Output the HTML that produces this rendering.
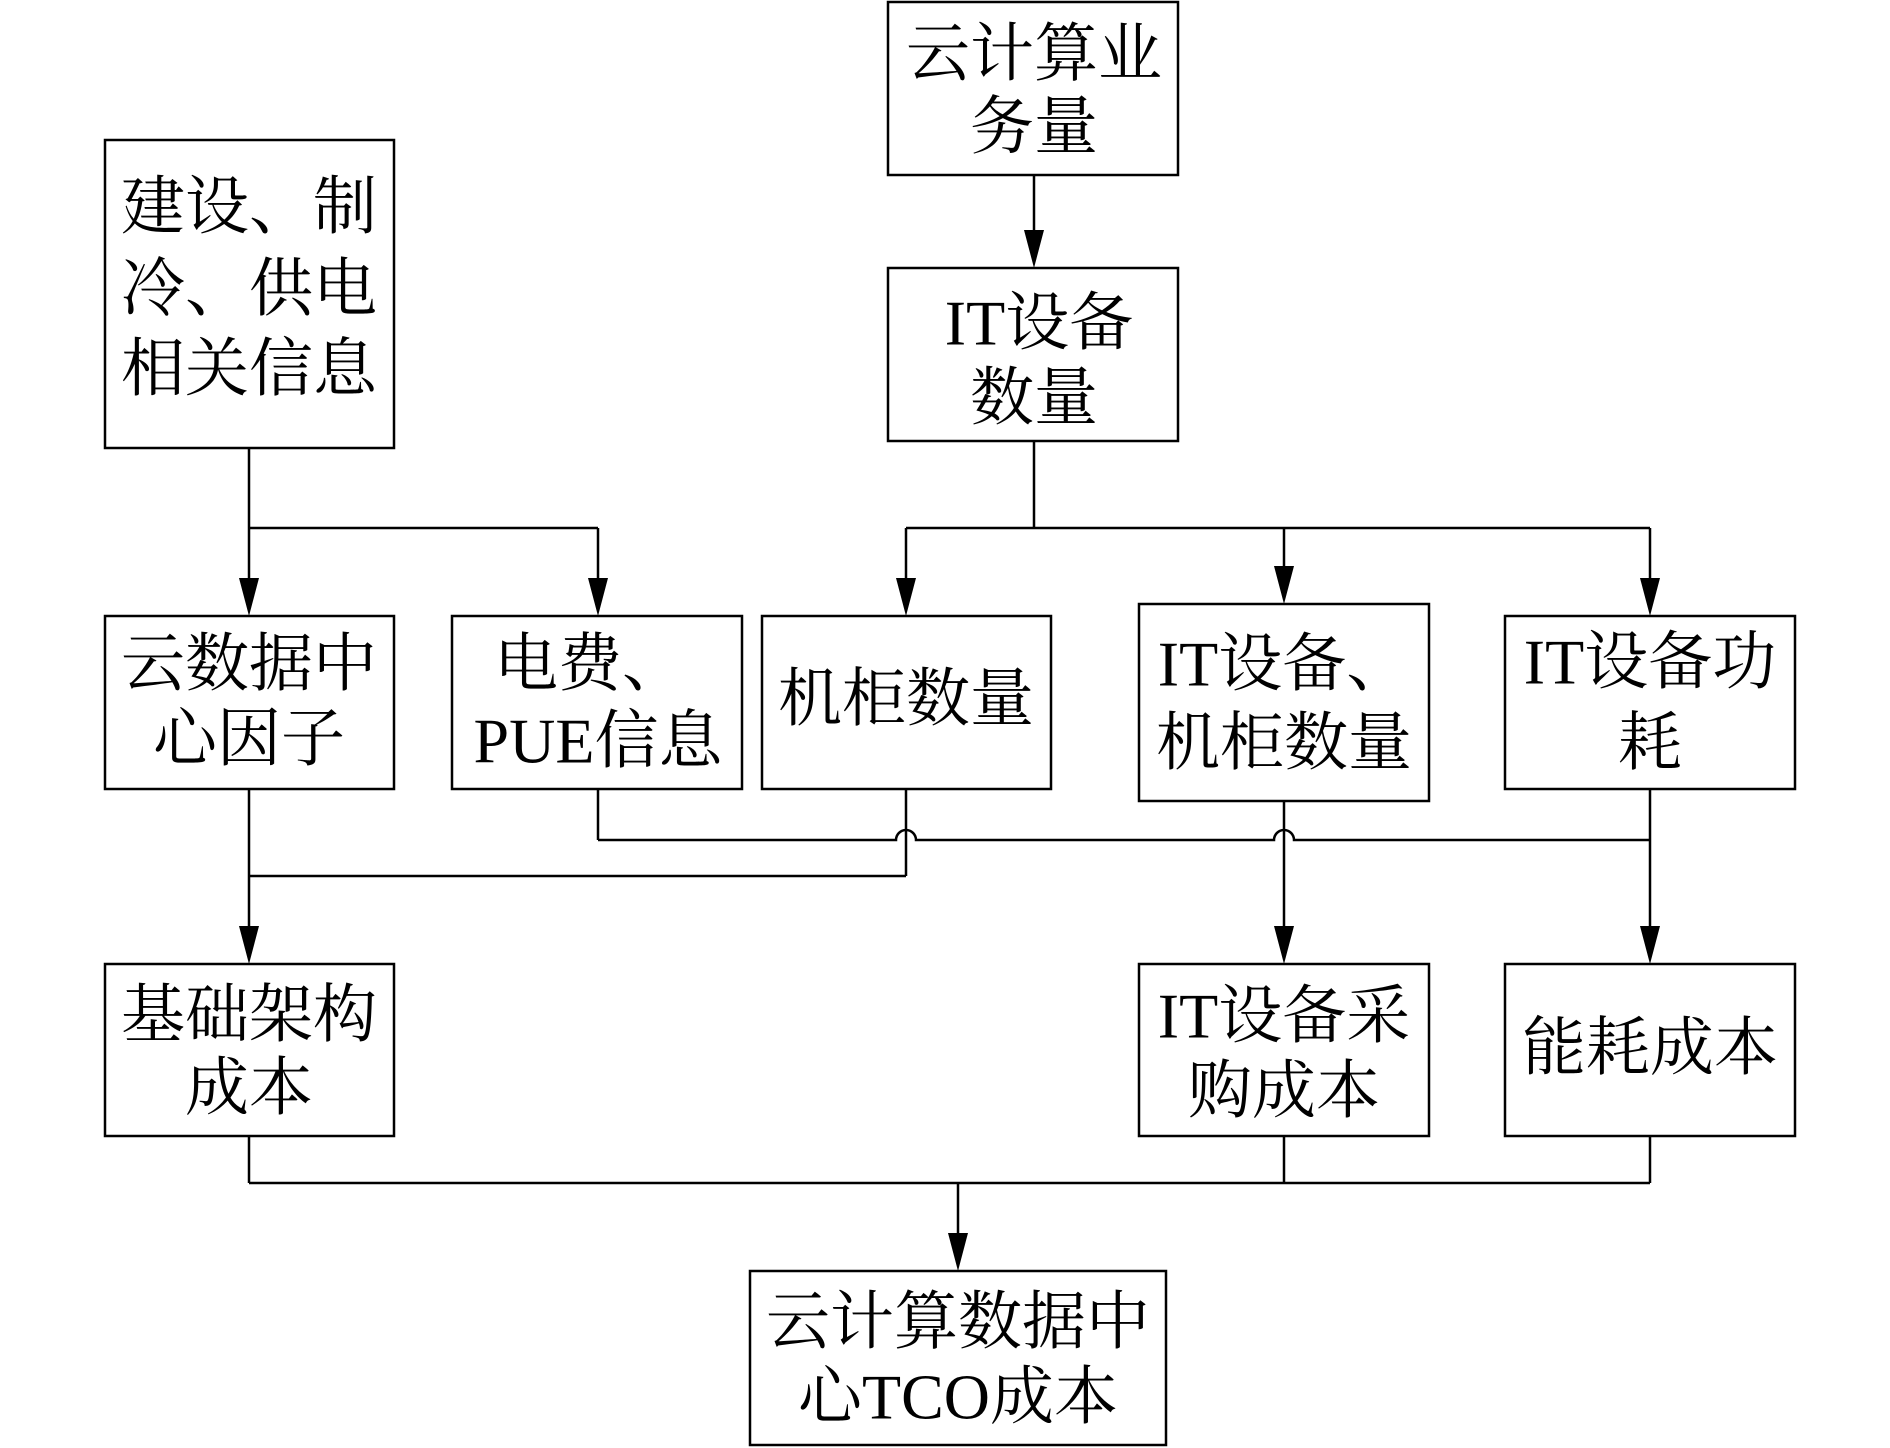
<!DOCTYPE html>
<html><head><meta charset="utf-8"><style>
html,body{margin:0;padding:0;background:#fff;}
svg{display:block;}
text{font-family:"Liberation Serif","Noto Serif CJK SC",serif;font-size:64px;fill:#000;text-anchor:middle;dominant-baseline:central;}
</style></head><body>
<svg width="1890" height="1448" viewBox="0 0 1890 1448" xmlns="http://www.w3.org/2000/svg">
<defs><marker id="a" markerWidth="20" markerHeight="38" refX="10" refY="38" orient="auto-start-reverse" markerUnits="userSpaceOnUse"><path d="M0,0 L20,0 L10,38 Z" fill="#000" transform="rotate(0)"/></marker></defs>
<g fill="none" stroke="#000" stroke-width="2.5">
<rect x="888" y="2" width="290" height="173"/>
<rect x="105" y="140" width="289" height="308"/>
<rect x="888" y="268" width="290" height="173"/>
<rect x="105" y="616" width="289" height="173"/>
<rect x="452" y="616" width="290" height="173"/>
<rect x="762" y="616" width="289" height="173"/>
<rect x="1139" y="604" width="290" height="197"/>
<rect x="1505" y="616" width="290" height="173"/>
<rect x="105" y="964" width="289" height="172"/>
<rect x="1139" y="964" width="290" height="172"/>
<rect x="1505" y="964" width="290" height="172"/>
<rect x="750" y="1271" width="416" height="174"/>
<!-- top -->
<line x1="1034" y1="175" x2="1034" y2="230"/>
<line x1="249" y1="448" x2="249" y2="528"/>
<line x1="249" y1="528" x2="598" y2="528"/>
<line x1="1034" y1="441" x2="1034" y2="528"/>
<line x1="906" y1="528" x2="1650" y2="528"/>
<!-- middle -->
<line x1="598" y1="789" x2="598" y2="840"/>
<path d="M598,840 H896 A10,10 0 0 1 916,840 H1274 A10,10 0 0 1 1294,840 H1650"/>
<line x1="906" y1="789" x2="906" y2="876"/>
<line x1="249" y1="876" x2="906" y2="876"/>
<line x1="249" y1="789" x2="249" y2="926"/>
<line x1="1284" y1="801" x2="1284" y2="926"/>
<line x1="1650" y1="789" x2="1650" y2="926"/>
<!-- bottom -->
<line x1="249" y1="1136" x2="249" y2="1183"/>
<line x1="1284" y1="1136" x2="1284" y2="1183"/>
<line x1="1650" y1="1136" x2="1650" y2="1183"/>
<line x1="249" y1="1183" x2="1650" y2="1183"/>
<line x1="958" y1="1183" x2="958" y2="1233"/>
</g>
<g fill="#000">
<path d="M1024,230 L1044,230 L1034,268 Z"/>
<path d="M239,578 L259,578 L249,616 Z"/>
<path d="M588,578 L608,578 L598,616 Z"/>
<path d="M896,578 L916,578 L906,616 Z"/>
<path d="M1274,566 L1294,566 L1284,604 Z"/>
<path d="M1640,578 L1660,578 L1650,616 Z"/>
<line x1="906" y1="528" x2="906" y2="580" stroke="#000" stroke-width="2.5"/>
<line x1="1284" y1="528" x2="1284" y2="568" stroke="#000" stroke-width="2.5"/>
<line x1="1650" y1="528" x2="1650" y2="580" stroke="#000" stroke-width="2.5"/>
<line x1="598" y1="528" x2="598" y2="580" stroke="#000" stroke-width="2.5"/>
<line x1="249" y1="528" x2="249" y2="580" stroke="#000" stroke-width="2.5"/>
<path d="M239,926 L259,926 L249,964 Z"/>
<path d="M1274,926 L1294,926 L1284,964 Z"/>
<path d="M1640,926 L1660,926 L1650,964 Z"/>
<path d="M948,1233 L968,1233 L958,1271 Z"/>
</g>
<text x="1034" y="54">云计算业</text>
<text x="1034" y="127">务量</text>
<text x="249" y="207">建设、制</text>
<text x="249" y="289">冷、供电</text>
<text x="249" y="369">相关信息</text>
<text x="1039" y="323">IT设备</text>
<text x="1034" y="398">数量</text>
<text x="249" y="664">云数据中</text>
<text x="249" y="739">心因子</text>
<text x="590" y="664">电费、</text>
<text x="598" y="741">PUE信息</text>
<text x="906" y="699">机柜数量</text>
<text x="1284" y="664">IT设备、</text>
<text x="1284" y="743">机柜数量</text>
<text x="1650" y="662">IT设备功</text>
<text x="1650" y="743">耗</text>
<text x="249" y="1015">基础架构</text>
<text x="249" y="1088">成本</text>
<text x="1284" y="1016">IT设备采</text>
<text x="1284" y="1091">购成本</text>
<text x="1650" y="1048">能耗成本</text>
<text x="958" y="1322">云计算数据中</text>
<text x="958" y="1397">心TCO成本</text>
</svg>
</body></html>
